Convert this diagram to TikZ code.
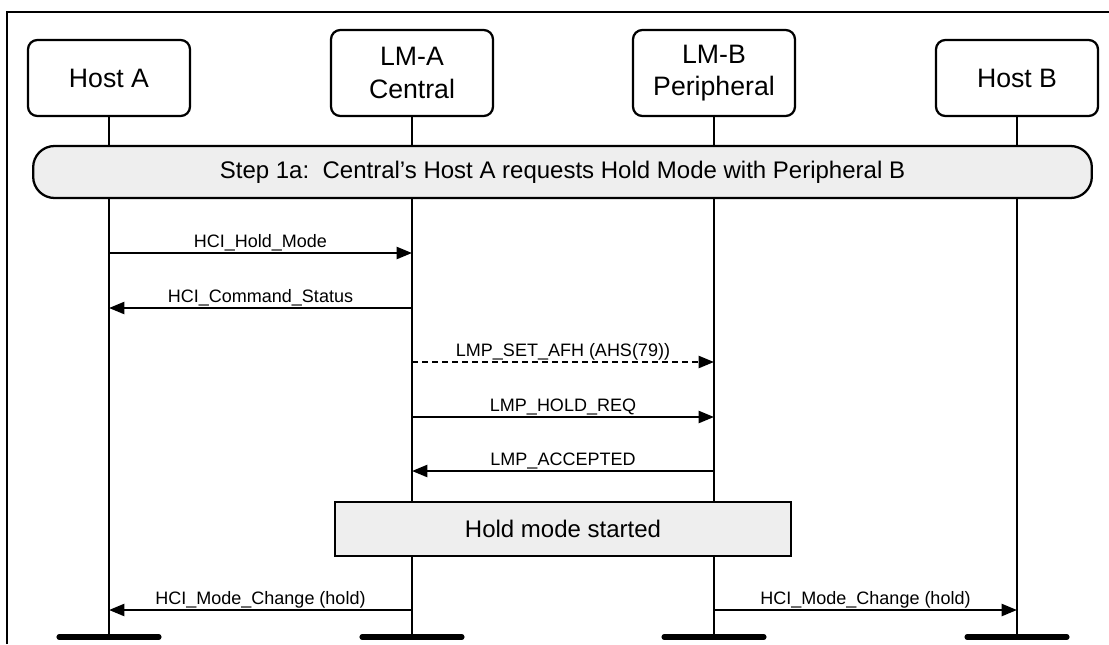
\documentclass[tikz,border=0pt]{standalone}
\usepackage{fontspec}
\setmainfont{Liberation Sans}
\usetikzlibrary{arrows.meta}
\definecolor{bg}{HTML}{EEEEEE}
\begin{document}
\begin{tikzpicture}[x=0.75pt,y=-0.75pt,
  ent/.style={draw,line width=1.7pt,rounded corners=7pt,minimum width=121.5pt,
    align=center,inner sep=0pt,font=\fontsize{20}{24.5}\selectfont},
  lifeline/.style={line width=1.7pt},
  endbar/.style={line width=3.8pt,line cap=round},
  msg/.style={line width=1.7pt,-{Triangle[length=11.5pt,width=9pt]}},
  msgd/.style={msg,dash pattern=on 4.5pt off 3pt},
  lbl/.style={font=\fontsize{13.5}{16}\selectfont,anchor=base,inner sep=0pt},
  stepbox/.style={draw,line width=1.7pt,fill=bg,font=\fontsize{18}{21}\selectfont,inner sep=0pt}
]
\useasboundingbox (0,0) rectangle (1109,644);
\draw[line width=1.7pt] (7,644) -- (7,12) -- (1109,12);

% entities
\node[ent,minimum height=57pt] (hA) at (109,78) {Host A};
\node[ent,minimum height=64.5pt] (lA) at (412,73) {LM-A\\Central};
\node[ent,minimum height=64.5pt] (lB) at (714,73) {LM-B\\Peripheral};
\node[ent,minimum height=57pt] (hB) at (1017,78) {Host B};

% lifeline ends
\coordinate (eA) at (109,637);
\coordinate (eLA) at (412,637);
\coordinate (eLB) at (714,637);
\coordinate (eB) at (1017,637);

\draw[lifeline] (hA.south) -- (eA);
\draw[lifeline] (lA.south) -- (eLA);
\draw[lifeline] (lB.south) -- (eLB);
\draw[lifeline] (hB.south) -- (eB);

\foreach \e in {eA,eLA,eLB,eB}
  \draw[endbar] ([xshift=-37.5pt]\e) -- ([xshift=37.5pt]\e);

% banner
\node[stepbox,rounded corners=16pt,minimum width=794pt,minimum height=39pt] (step) at (562.5,172)
  {Step 1a:\ \ Central’s Host A requests Hold Mode with Peripheral B};

% message points
\coordinate (m1a) at (109,253);   \coordinate (m1b) at (412,253);
\coordinate (m2a) at (412,308);   \coordinate (m2b) at (109,308);
\coordinate (m3a) at (412,362);   \coordinate (m3b) at (714,362);
\coordinate (m4a) at (412,417);   \coordinate (m4b) at (714,417);
\coordinate (m5a) at (714,471);   \coordinate (m5b) at (412,471);
\coordinate (m6a) at (412,610);   \coordinate (m6b) at (109,610);
\coordinate (m7a) at (714,610);   \coordinate (m7b) at (1017,610);

\draw[msg] (m1a) -- (m1b) node[lbl,midway,yshift=4.5pt] {HCI\_Hold\_Mode};
\draw[msg] (m2a) -- (m2b) node[lbl,midway,yshift=4.5pt] {HCI\_Command\_Status};
\draw[msgd] (m3a) -- (m3b) node[lbl,midway,yshift=4.5pt] {LMP\_SET\_AFH (AHS(79))};
\draw[msg] (m4a) -- (m4b) node[lbl,midway,yshift=4.5pt] {LMP\_HOLD\_REQ};
\draw[msg] (m5a) -- (m5b) node[lbl,midway,yshift=4.5pt] {LMP\_ACCEPTED};

\node[stepbox,minimum width=342pt,minimum height=40.5pt] (hold) at (563,529) {Hold mode started};

\draw[msg] (m6a) -- (m6b) node[lbl,midway,yshift=4.5pt] {HCI\_Mode\_Change (hold)};
\draw[msg] (m7a) -- (m7b) node[lbl,midway,yshift=4.5pt] {HCI\_Mode\_Change (hold)};
\end{tikzpicture}
\end{document}
